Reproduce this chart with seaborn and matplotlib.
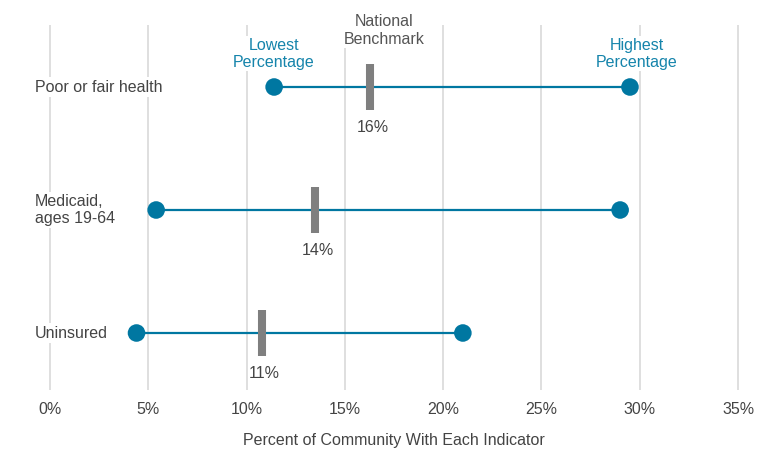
import pandas as pd
import seaborn as sns
import matplotlib.pyplot as plt

# dados
indicadores = ['Poor or fair health', 'Medicaid,\nages 19-64', 'Uninsured']
menor = [11.4, 5.4, 4.4]
maior = [29.5, 29.0, 21.0]
referencia = [16.3, 13.5, 10.8]
rotulos_ref = ['16%', '14%', '11%']
ticks = [0, 5, 10, 15, 20, 25, 30, 35]

azul = '#0077A1'
azul_txt = '#1584AB'
cinza = '#7F7F7F'
texto = '#444444'
fs = 11.5

df = pd.DataFrame({'indicador': indicadores, 'menor': menor, 'maior': maior,
                   'referencia': referencia, 'pos': range(len(indicadores))})
pontos = pd.concat([
    df[['pos', 'menor']].rename(columns={'menor': 'valor'}),
    df[['pos', 'maior']].rename(columns={'maior': 'valor'}),
])

sns.set_theme(style='white')
plt.rcParams['font.family'] = ['Liberation Sans', 'DejaVu Sans']

fig = plt.figure(figsize=(7.8, 4.7), dpi=100)
ax = fig.add_axes([0, 0, 1, 1])
px = 19.66  # pixels por ponto percentual
ax.set_xlim(-50 / px, (780 - 50) / px)
ax.set_ylim((470 - 87) / 123, -87 / 123)
ax.axis('off')

# grade vertical
ax.vlines(ticks, -0.504, 2.463, color='#D9D9D9', linewidth=1.2, zorder=0)

ax.hlines(df['pos'], df['menor'], df['maior'], color=azul, linewidth=1.6, zorder=2)
ax.vlines(df['referencia'], df['pos'] - 0.19, df['pos'] + 0.19, color=cinza,
          linewidth=5.8, zorder=3)
sns.scatterplot(data=pontos, x='valor', y='pos', color=azul, s=160,
                edgecolor='none', zorder=4, ax=ax, legend=False)

for i, row in df.iterrows():
    ax.text(-0.76, row['pos'], row['indicador'], ha='left', va='center',
            fontsize=fs, color=texto, linespacing=1.2,
            bbox=dict(facecolor='white', edgecolor='none', pad=1.5), zorder=1)
    ax.text(row['referencia'] + 0.1, row['pos'] + 0.33, rotulos_ref[i],
            ha='center', va='center', fontsize=fs, color=texto)

ax.text(menor[0], -0.27, 'Lowest\nPercentage', ha='center', va='center',
        fontsize=fs, color=azul_txt, linespacing=1.2,
        bbox=dict(facecolor='white', edgecolor='none', pad=1), zorder=1)
ax.text(maior[0] + 0.35, -0.27, 'Highest\nPercentage', ha='center', va='center',
        fontsize=fs, color=azul_txt, linespacing=1.2,
        bbox=dict(facecolor='white', edgecolor='none', pad=1), zorder=1)
ax.text(referencia[0] + 0.7, -0.46, 'National\nBenchmark', ha='center', va='center',
        fontsize=fs, color='#555555', linespacing=1.2,
        bbox=dict(facecolor='white', edgecolor='none', pad=1), zorder=1)

for t in ticks:
    ax.text(t, 2.626, f'{t}%', ha='center', va='center', fontsize=fs, color=texto)
ax.text(17.5, 2.878, 'Percent of Community With Each Indicator', ha='center',
        va='center', fontsize=fs, color=texto)

plt.savefig('out.png', dpi=100)
